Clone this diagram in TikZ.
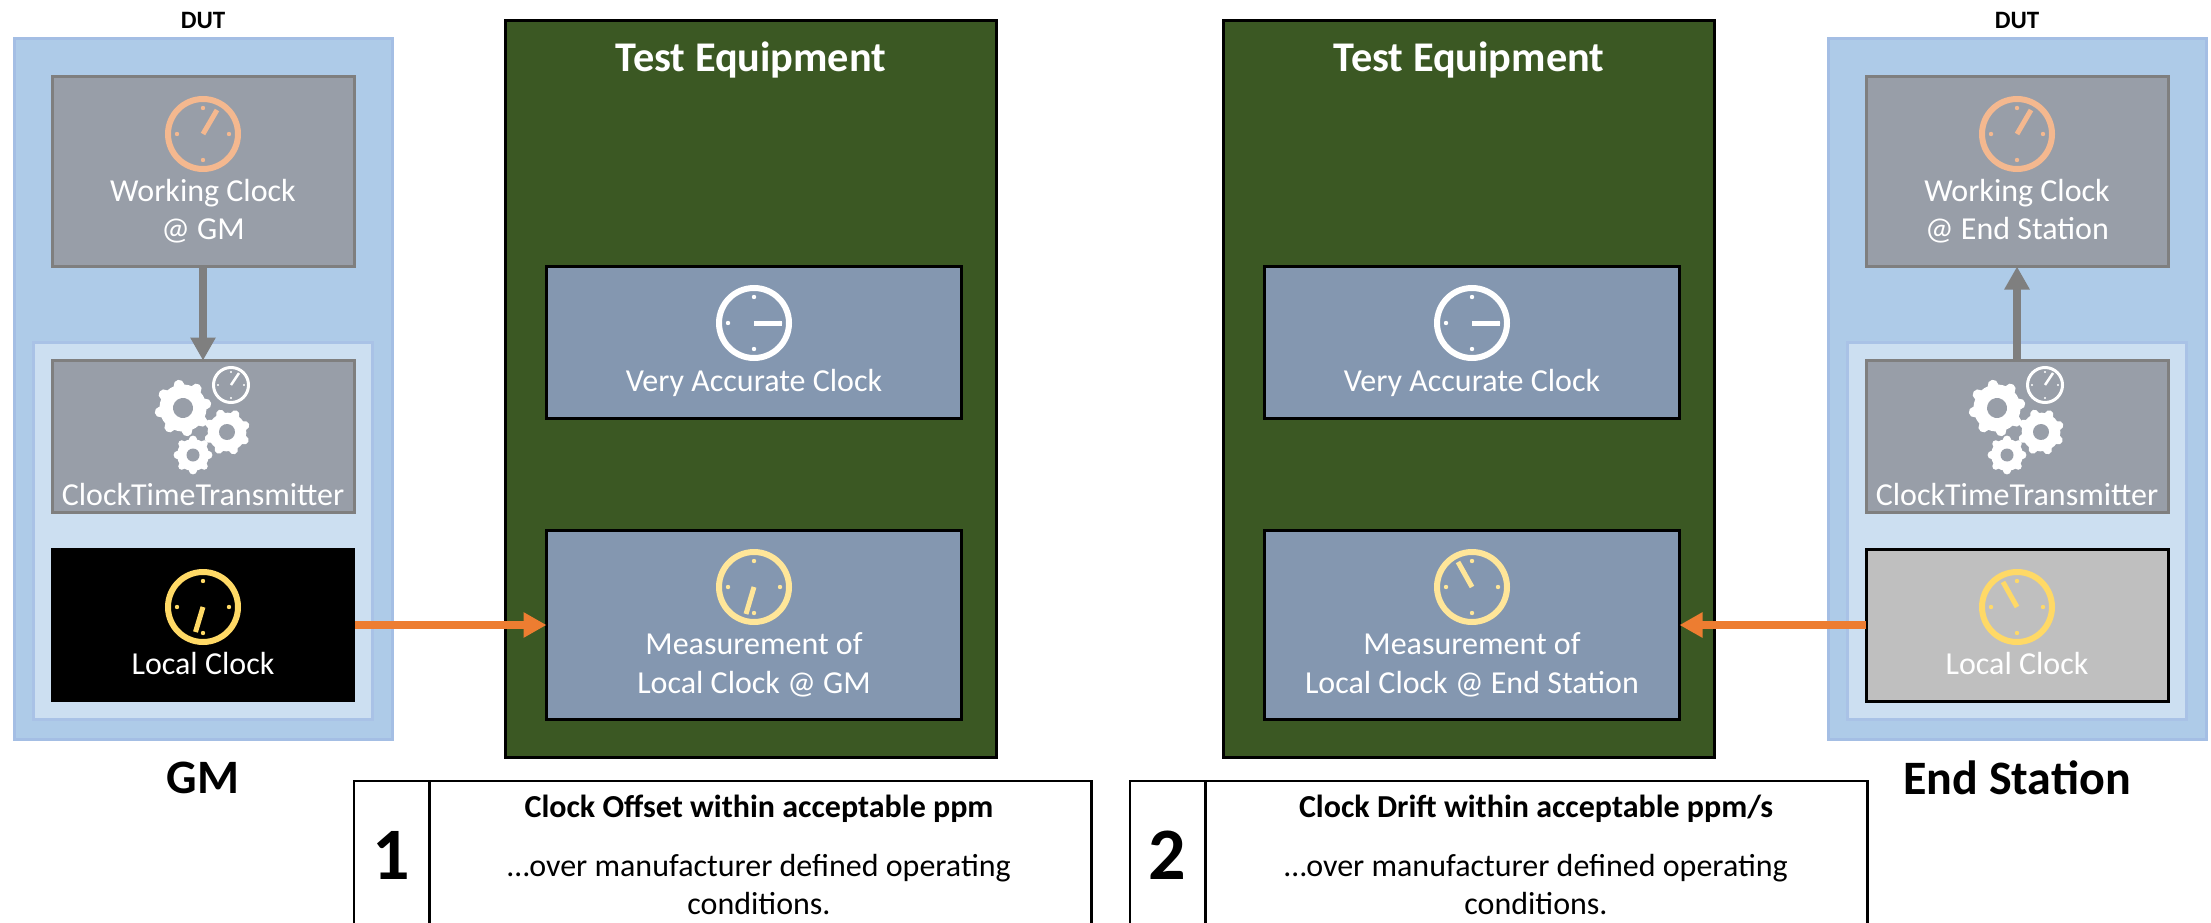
\documentclass[tikz,border=0pt]{standalone}
\usepackage{fontspec}
\setmainfont{Carlito}
\usetikzlibrary{arrows.meta}
\definecolor{dutout}{HTML}{AECBE8}
\definecolor{dutoutl}{HTML}{A4BEE4}
\definecolor{dutin}{HTML}{CCDFF1}
\definecolor{dutinl}{HTML}{A9C2E6}
\definecolor{grayfill}{HTML}{989EA8}
\definecolor{grayline}{HTML}{7F7F7F}
\definecolor{teqfill}{HTML}{3B5823}
\definecolor{bluebox}{HTML}{8497B0}
\definecolor{wclk}{HTML}{F4B88F}
\definecolor{lclk}{HTML}{FFD966}
\definecolor{mclk}{HTML}{FFE699}
\definecolor{orangearrow}{HTML}{ED7D31}
\tikzset{
  x=1pt,y=-1pt,
  every node/.style={inner sep=0pt,outer sep=0pt,align=center},
  outerbox/.style={draw=dutoutl,line width=3pt,fill=dutout,minimum width=378pt,minimum height=700pt},
  innerbox/.style={draw=dutinl,line width=3pt,fill=dutin,minimum width=339pt,minimum height=377pt},
  graybox/.style={draw=grayline,line width=3pt,fill=grayfill,minimum width=302pt},
  teqbox/.style={draw=black,line width=3pt,fill=teqfill,minimum width=491pt,minimum height=737pt},
  bluenode/.style={draw=black,line width=3pt,fill=bluebox,minimum width=415pt},
  tablecell/.style={draw=black,line width=2.5pt,fill=white},
  boxlabel/.style={text=white,font=\fontsize{32}{38.5}\selectfont},
  duttitle/.style={font=\bfseries\fontsize{25}{30}\selectfont},
  sidetitle/.style={font=\bfseries\fontsize{48}{56}\selectfont},
  teqtitle/.style={text=white,font=\bfseries\fontsize{42.3}{50}\selectfont},
  tabtitle/.style={font=\bfseries\fontsize{32}{38}\selectfont},
  tabbody/.style={font=\fontsize{32}{38.5}\selectfont},
  tabnum/.style={font=\bfseries\fontsize{74}{80}\selectfont},
  grayarrow/.style={draw=grayline,line width=8pt,-{Triangle[length=23pt,width=24pt]}},
  orangearr/.style={draw=orangearrow,line width=8pt,-{Triangle[length=23pt,width=24pt]}},
}
% centre x, centre y, hand dx, hand dy, colour, scale
\newcommand{\clockicon}[6]{%
  \begin{scope}[shift={(#1,#2)}]
    \draw[#5,line width=#6*6pt] (0,0) circle[radius=#6*35];
    \foreach \a in {0,90,180,270}
      \fill[#5] (\a:#6*26) circle[radius=#6*2.2];
    \draw[#5,line width=#6*5pt] (0,0) -- (#3,#4);
  \end{scope}}
% centre x, centre y, outer R, hole r, rotation
\newcommand{\gearicon}[5]{%
  \begin{scope}[shift={(#1,#2)},rotate=#5]
    \fill[white] (0,0) circle[radius=#3*0.84];
    \foreach \a in {0,45,...,315}
      \draw[white,line width=#3*0.38pt,line cap=round] (\a:#3*0.7) -- (\a:#3*0.83);
    \fill[grayfill] (0,0) circle[radius=#4];
  \end{scope}}
\begin{document}
\begin{tikzpicture}
\useasboundingbox (0,0) rectangle (2211,923);
\clip (0,0) rectangle (2211,923);

% ---------- left DUT
\node[duttitle] (dutL) at (203,20) {DUT};
\node[outerbox] (outL) at (203,389) {};
\node[innerbox] (inL) at (203,530.5) {};
\node[graybox,minimum height=190pt] (wcL) at (203,171.5) {};
\node[graybox,minimum height=152pt] (ctL) at (203,436.5) {};
\node[draw=none,fill=black,minimum width=304pt,minimum height=154pt] (lcL) at (203,625) {};
\clockicon{203}{134}{14}{-24}{wclk}{1}
\node[boxlabel] (wcLt) at (203,211) {Working Clock\\@ GM};
\gearicon{183}{408}{28}{10}{10}
\gearicon{227}{432}{23}{8}{20}
\gearicon{193}{455}{19}{6.5}{0}
\clockicon{231}{385}{8}{-12}{white}{0.5}
\node[boxlabel] (ctLt) at (203,495) {ClockTimeTransmitter};
\clockicon{203}{607}{-7.5}{25}{lclk}{1}
\node[boxlabel] (lcLt) at (203,664) {Local Clock};
\draw[grayarrow] (wcL.south) -- (ctL.north);
\node[sidetitle] (gm) at (203,778) {GM};

% ---------- left test equipment
\node[teqbox] (teL) at (751,389) {};
\node[teqtitle] (teLt) at (751,60) {Test Equipment};
\node[bluenode,minimum height=152pt] (vaL) at (754,342) {};
\clockicon{754}{323}{28}{0}{white}{1}
\node[boxlabel] (vaLt) at (754,383) {Very Accurate Clock};
\node[bluenode,minimum height=189pt] (meL) at (754,625) {};
\clockicon{754}{587}{-8}{27}{mclk}{1}
\node[boxlabel] (meLt) at (754,665) {Measurement of\\Local Clock @ GM};
\draw[orangearr] (lcL.east) -- (meL.west);

% ---------- right DUT
\node[duttitle] (dutR) at (2017,20) {DUT};
\node[outerbox] (outR) at (2017,389) {};
\node[innerbox] (inR) at (2017,530.5) {};
\node[graybox,minimum height=190pt] (wcR) at (2017,171.5) {};
\node[graybox,minimum height=152pt] (ctR) at (2017,436.5) {};
\node[draw=black,line width=3pt,fill=black!25,minimum width=302pt,minimum height=152pt] (lcR) at (2017,625) {};
\clockicon{2017}{134}{14}{-24}{wclk}{1}
\node[boxlabel] (wcRt) at (2017,211) {Working Clock\\@ End Station};
\gearicon{1997}{408}{28}{10}{10}
\gearicon{2041}{432}{23}{8}{20}
\gearicon{2007}{455}{19}{6.5}{0}
\clockicon{2045}{385}{8}{-12}{white}{0.5}
\node[boxlabel] (ctRt) at (2017,495) {ClockTimeTransmitter};
\clockicon{2017}{607}{-14}{-25}{lclk}{1}
\node[boxlabel] (lcRt) at (2017,664) {Local Clock};
\draw[grayarrow] (ctR.north) -- (wcR.south);
\node[sidetitle] (es) at (2017,778) {End Station};

% ---------- right test equipment
\node[teqbox] (teR) at (1469,389) {};
\node[teqtitle] (teRt) at (1469,60) {Test Equipment};
\node[bluenode,minimum height=152pt] (vaR) at (1472,342) {};
\clockicon{1472}{323}{28}{0}{white}{1}
\node[boxlabel] (vaRt) at (1472,383) {Very Accurate Clock};
\node[bluenode,minimum height=189pt] (meR) at (1472,625) {};
\clockicon{1472}{587}{-14}{-25}{mclk}{1}
\node[boxlabel] (meRt) at (1472,665) {Measurement of\\Local Clock @ End Station};
\draw[orangearr] (lcR.west) -- (meR.east);

% ---------- tables
\node[tablecell,minimum width=75pt,minimum height=160pt] (n1) at (391.5,861) {};
\node[tablecell,minimum width=662pt,minimum height=160pt] (t1) at (760.5,861) {};
\node[tabnum] (n1t) at (391.5,855) {1};
\node[tabtitle] (t1a) at (759,809) {Clock Offset within acceptable ppm};
\node[tabbody] (t1b) at (759,884.5) {…over manufacturer defined operating\\conditions.};
\node[tablecell,minimum width=75pt,minimum height=160pt] (n2) at (1167.5,861) {};
\node[tablecell,minimum width=662pt,minimum height=160pt] (t2) at (1536.5,861) {};
\node[tabnum] (n2t) at (1167.5,855) {2};
\node[tabtitle] (t2a) at (1536,809) {Clock Drift within acceptable ppm/s};
\node[tabbody] (t2b) at (1536,884.5) {…over manufacturer defined operating\\conditions.};
\end{tikzpicture}
\end{document}
